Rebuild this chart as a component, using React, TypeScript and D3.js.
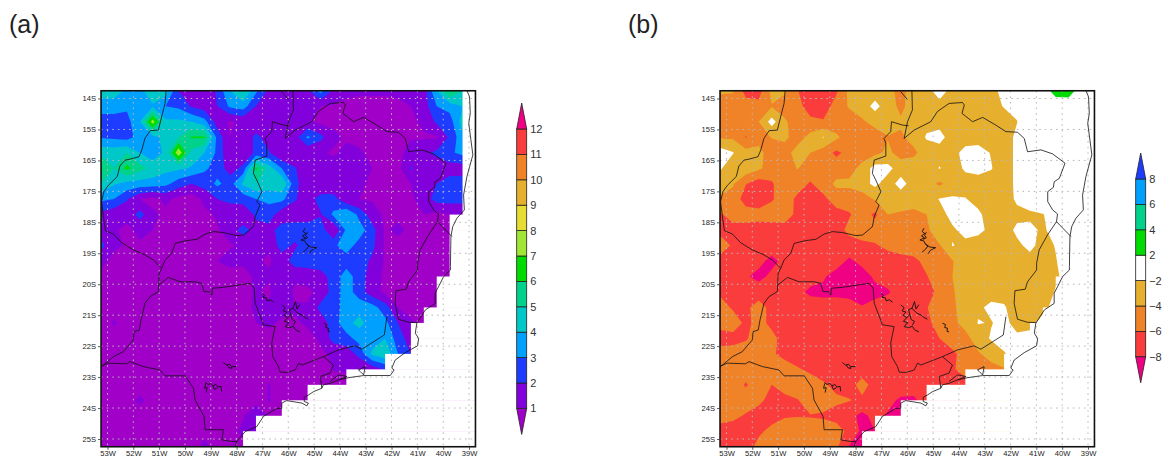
import React, { useRef, useEffect } from 'react'
import * as d3 from 'd3'

// grid: 0.5 degree, rows from 13.75S down to 25.25S, columns from 53.25W to 38.75W
const gridLons = d3.range(30).map(i => -53.25 + i * 0.5)
const gridLats = d3.range(24).map(i => -13.75 - i * 0.5)

const rainA = [
  [4.8,4.5,3.8,3.6,5.0,4.5,2.0,1.0,1.0,2.2,4.0,5.2,3.2,1.8,1.5,1.2,1.8,3.4,1.8,1.2,1.1,1.1,1.1,1.2,1.1,1.5,4.0,6.2,5.0,5.0],
  [3.2,3.5,3.2,3.5,3.8,3.0,2.8,1.9,1.5,2.0,3.2,3.5,2.0,1.8,1.5,1.2,1.0,1.0,0.9,0.8,0.8,0.8,0.8,0.8,1.0,1.5,3.0,3.4,4.0,4.0],
  [2.8,2.5,2.6,4.0,7.5,4.2,4.2,4.0,3.4,1.5,0.9,1.2,1.2,1.3,1.5,1.3,1.1,0.8,0.8,0.7,0.7,0.7,0.7,0.7,0.8,1.2,2.2,2.5,4.5,4.5],
  [2.9,2.8,2.6,3.4,3.6,4.4,5.0,6.1,6.1,2.7,1.0,1.1,2.3,1.5,1.2,1.5,3.2,2.3,1.2,0.9,0.8,0.7,0.7,0.7,0.9,0.9,0.9,2.2,3.7,3.7],
  [4.7,4.6,5.0,4.0,3.2,4.3,7.8,4.7,4.0,2.8,1.0,1.0,2.3,2.1,1.0,1.0,1.1,1.1,0.9,1.2,1.1,0.8,0.7,0.7,1.4,1.8,2.2,2.8,3.3,3.3],
  [6.2,5.0,6.3,5.3,4.8,4.3,4.2,3.9,3.2,2.6,1.5,2.3,6.2,4.5,3.0,2.1,1.2,1.3,1.3,1.4,1.3,1.0,0.7,0.7,2.1,1.3,1.5,1.5,1.5,1.5],
  [5.0,4.1,3.7,3.6,3.5,3.3,2.5,2.0,2.4,3.2,2.6,4.2,5.0,4.6,5.0,2.4,1.2,1.1,1.2,1.3,1.1,0.9,0.7,0.8,1.0,1.0,2.0,2.5,2.5,2.5],
  [3.2,3.0,2.1,1.0,0.7,1.2,0.7,0.5,1.2,2.0,2.4,2.4,3.0,3.2,3.3,2.1,1.5,2.4,2.4,1.2,1.0,0.9,0.8,0.9,0.8,1.5,2.4,2.4,2.4,2.4],
  [1.7,1.3,1.3,2.4,1.2,0.8,0.6,0.6,0.8,1.1,1.0,1.2,2.2,2.6,1.3,1.4,1.4,1.9,3.2,4.1,2.7,1.5,0.8,0.8,0.9,1.0,0.7,1.0,1.0,1.0],
  [1.5,1.1,0.8,1.2,1.0,0.7,0.6,0.6,0.7,0.9,1.5,2.4,1.6,1.6,2.5,2.6,2.6,2.6,1.0,3.2,3.5,2.4,0.9,1.2,0.8,0.8,0.6,0.7,1.0,1.0],
  [2.3,1.2,0.9,0.9,0.7,0.6,0.5,0.6,0.7,0.7,0.9,1.2,1.1,1.1,2.5,1.8,2.6,2.6,2.8,3.5,2.6,2.3,0.8,0.7,0.9,0.7,0.6,0.8,1.0,1.0],
  [1.3,0.7,0.7,0.6,0.6,0.6,0.5,0.6,0.8,1.0,1.3,1.1,1.1,0.9,1.4,2.5,2.5,2.6,2.5,2.5,2.5,1.8,0.9,0.6,0.6,0.8,0.9,0.9,1.0,1.0],
  [0.7,0.6,0.6,0.6,0.6,0.6,0.5,0.5,0.5,0.6,0.6,0.8,1.1,1.1,1.1,1.2,1.4,1.6,2.4,3.5,2.5,1.5,0.8,0.6,0.6,0.6,1.0,1.0,1.0,1.0],
  [0.6,0.6,0.6,0.6,0.6,0.6,0.5,0.5,0.5,0.6,0.6,0.7,1.1,0.8,2.0,0.8,0.8,1.3,2.4,3.5,2.5,1.4,0.8,0.7,0.7,0.7,0.8,1.0,1.0,1.0],
  [0.6,0.6,0.6,0.6,0.6,0.6,0.5,0.5,0.5,0.6,0.6,0.8,1.1,1.2,1.2,1.1,1.1,2.3,2.6,3.4,3.6,3.4,2.5,1.0,0.8,0.8,0.8,0.8,0.8,0.8],
  [0.6,1.1,0.6,0.6,0.6,0.6,0.5,0.5,0.5,0.6,0.6,0.8,1.0,1.1,0.9,0.9,1.1,1.4,2.5,3.7,4.3,3.5,3.3,2.0,1.1,0.8,0.8,0.8,0.8,0.8],
  [0.6,0.6,0.6,0.6,0.6,0.6,0.5,0.5,0.5,0.6,0.6,0.7,0.8,0.8,0.7,0.7,0.8,1.1,2.4,2.6,3.4,3.5,4.0,2.5,1.5,0.8,0.8,0.8,0.8,0.8],
  [0.6,0.6,0.6,0.6,0.6,0.6,0.5,0.5,0.5,0.6,0.6,0.6,0.6,0.6,0.5,0.5,0.6,0.9,1.1,1.4,2.3,4.2,4.8,3.0,2.0,0.8,0.8,0.8,0.8,0.8],
  [0.6,0.6,0.6,0.6,0.6,0.6,0.5,0.5,0.5,0.6,0.6,0.6,0.6,0.6,0.5,0.5,0.5,0.5,1.05,1.1,1.2,1.4,2.1,1.5,1.0,0.8,0.8,0.8,0.8,0.8],
  [0.6,0.6,0.6,0.6,0.6,0.6,0.5,0.5,0.5,0.6,0.6,0.6,0.6,1.05,0.6,0.6,0.6,0.6,0.6,0.6,0.6,0.6,0.6,0.6,0.6,0.6,0.6,0.6,0.6,0.6],
  [0.6,0.6,0.6,1.2,0.6,0.6,0.5,0.5,0.5,0.6,0.6,0.6,0.6,1.05,0.6,0.6,0.6,0.6,0.6,0.6,0.6,0.6,0.6,0.6,0.6,0.6,0.6,0.6,0.6,0.6],
  [0.6,0.6,0.6,0.6,0.6,0.6,0.5,0.5,0.5,0.6,0.6,0.9,2.1,0.8,0.6,0.6,0.6,0.6,0.6,0.6,0.6,0.6,0.6,0.6,0.6,0.6,0.6,0.6,0.6,0.6],
  [0.6,0.6,0.6,0.6,0.6,0.6,0.5,0.5,0.7,0.6,0.7,1.2,1.0,0.6,0.6,0.6,0.6,0.6,0.6,0.6,0.6,0.6,0.6,0.6,0.6,0.6,0.6,0.6,0.6,0.6],
  [0.6,0.6,0.6,0.6,0.6,0.6,0.5,0.5,1.3,0.6,0.6,0.8,0.8,0.6,0.6,0.6,0.6,0.6,0.6,0.6,0.6,0.6,0.6,0.6,0.6,0.6,0.6,0.6,0.6,0.6],
]

const rainB = [
  [-3.7,-3.8,-6.8,-6.8,-3.4,-3.7,-5.9,-7.2,-7.2,-6.3,-3.5,-3.0,-3.0,-3.4,-4.6,-3.0,-2.6,-1.2,-2.6,-2.6,-2.6,-2.5,-1.5,-1,-0.5,1.0,2.8,2.9,1,1],
  [-5,-5,-5,-5.4,-4.1,-4.9,-5.3,-7,-7,-5.2,-3.8,-3,-1.4,-3,-4.5,-3,-2.7,-2.6,-2.6,-2.6,-2.6,-2.6,-1.9,-1.5,-0.5,-0.5,0.8,0.8,0.5,0.5],
  [-5,-5,-5,-4,-1.2,-3.7,-5,-5.5,-5.8,-5.2,-5,-4.3,-3.3,-3,-3.7,-3,-2.6,-2.5,-2.6,-2.6,-2.6,-2.7,-2.8,-2.05,-0.5,-0.5,0,0,0,0],
  [-4.2,-4.3,-6.1,-4.8,-3.9,-3.5,-5,-3.3,-1.9,-3.6,-5,-5,-5,-4.1,-4.3,-3.3,-1.8,-1.5,-2.7,-2.7,-2.7,-2.8,-2.9,-1.6,-0.5,0,0,0,0,0],
  [-1,-1.9,-3.3,-3.4,-5,-5,-3,-4,-5,-6.4,-5.4,-5,-4.5,-3.6,-4.7,-4.4,-3,-2.7,-2.5,-1.5,-1.3,-2.1,-2.9,-1.6,0,0,0,0,0,0],
  [-1.8,-3,-2.7,-3.6,-5,-5,-3.9,-4.9,-5,-5,-4.8,-3.4,-1.2,-1.4,-3,-3,-3,-1.9,-2.9,-1.7,-1.4,-1.9,-2.9,-1.6,0,0,0,0,0,0],
  [-3,-3.8,-5.9,-7,-6.2,-5,-5.2,-6.2,-5,-3.6,-3.6,-2.8,-1.5,-3,-1.2,-3,-3.3,-4.3,-3.3,-2.8,-2.8,-2.7,-2.9,-1.6,0,0,0,0,0,0],
  [-4.3,-4.7,-7,-7.2,-6.2,-5,-6.4,-7.5,-6.5,-5,-5,-5,-3.8,-3,-3.2,-2.9,-2.8,-1.9,-1.7,-1.9,-2.7,-2.7,-2.9,-1.7,-0.5,0,0,0,0,0],
  [-6.3,-4.9,-4.9,-5.2,-5,-4.8,-6.6,-7.5,-7,-6.8,-6.2,-5,-6.4,-4,-4.2,-4.6,-4,-2.7,-1.4,-1.2,-1.6,-3,-2.8,-2.5,-2.5,-2.1,-1,0,0,0],
  [-6.6,-7,-7,-7,-7,-7,-7,-7.2,-7,-7,-5.4,-5,-5,-5,-4.8,-4.6,-4.6,-2,-2.3,-1.4,-1.5,-2.5,-2.9,-1.6,-1.4,-2.4,-1,0,0,0],
  [-4.9,-6.3,-7,-7,-7,-7,-7,-7,-7,-7,-7,-6.5,-6.2,-5.5,-5,-5,-5,-4.2,-1.9,-2.5,-3,-3,-3,-2.4,-1.5,-2.7,-1.9,-1,0,0],
  [-6.8,-7,-7.2,-7.5,-8.5,-7.5,-7.2,-7.2,-7.2,-7.2,-8.3,-7.5,-7,-7,-6.8,-6.4,-5.5,-4.6,-4.1,-3,-2.7,-2.7,-2.7,-2.7,-2.7,-2.6,-2.1,-1,0,0],
  [-7,-7,-7.8,-8.5,-7.6,-7.2,-7.2,-7.4,-7.8,-8.7,-9,-8.8,-7.7,-7.2,-7,-7,-6.1,-5,-4,-3,-2.7,-2.7,-2.7,-2.7,-2.7,-2.6,-2.2,-1.5,0,0],
  [-6.4,-7,-7,-7,-7.2,-7.4,-7.6,-8.3,-8.4,-8.3,-8.4,-8.7,-8.5,-8.2,-7.2,-7,-6.6,-5.6,-4.2,-3,-2.7,-2.7,-2.7,-2.7,-2.7,-2.7,-1.9,-1,0,0],
  [-5,-6.3,-6.4,-5.2,-6.6,-7,-7.1,-7.2,-7.3,-7.4,-7.5,-7.9,-7.4,-7.1,-7,-7,-6.1,-4.9,-4.4,-3,-2.3,-1.6,-1.8,-3,-3,-2.8,-1,0,0,0],
  [-5.2,-4.8,-6.5,-5.3,-6.5,-7,-7,-7,-7,-7,-7,-7,-7,-7,-7,-6.8,-6.3,-5.5,-4.5,-3.3,-1.9,-2.1,-1.4,-2.8,-2.9,-1,0,0,0,0],
  [-7,-6.8,-6.2,-5,-5.4,-6.8,-7,-7,-7,-7,-7,-7,-7,-7,-7,-7,-7,-6,-5,-4.7,-3,-1.8,-1,-1.5,-1,0,0,0,0,0],
  [-5,-5,-5,-5,-5.7,-6.6,-7,-7,-7,-7,-7,-7,-7,-7,-7,-7,-7,-7,-6.4,-5.2,-4.2,-3.3,-2.2,-1,0,0,0,0,0,0],
  [-5,-5,-5,-5,-5,-5,-5.8,-6.4,-7,-7,-7,-7,-7,-7,-7,-7,-7,-7,-6.3,-5,-5,-4.6,-4.2,-1,0,0,0,0,0,0],
  [-5,-5,-6.2,-5,-6,-5,-5,-5,-5.7,-6.6,-6.8,-5.2,-6.8,-7,-7,-7,-7,-7,-7,-7,-5,-4,-3,-1,0,0,0,0,0,0],
  [-5,-5,-5,-5.6,-6.6,-6.7,-6.1,-5,-5,-5.6,-5.9,-6.4,-6.7,-7.5,-8.3,-8.4,-7,-7,-7,-7,-5,-4,-3,-1,0,0,0,0,0,0],
  [-5,-5.5,-6.2,-6.8,-6.8,-6.2,-6.1,-6.1,-6.3,-6.8,-7.4,-8.5,-7.4,-8.2,-8.2,-8,-7,-7,-7,-7,-5,-4,-3,-1,0,0,0,0,0,0],
  [-7,-7,-6.8,-6.4,-5.4,-4.8,-4.8,-5.2,-4.9,-5,-6.6,-8.4,-8,-7,-7,-7,-7,-7,-7,-7,-5,-4,-3,-1,0,0,0,0,0,0],
  [-7,-7,-7,-5.3,-4.9,-4.9,-4.9,-5,-5,-5.6,-8.1,-8.5,-8,-7,-7,-7,-7,-7,-7,-7,-5,-4,-3,-1,0,0,0,0,0,0],
]

// last land column for each band between two grid rows (ocean points are undefined in the model)
const lastLandCol = [28,28,28,28,28,28,28,28,27,27,27,27,26,26,25,24,24,22,19,16,14,12,11]

const levelsA = [1,2,3,4,5,6,7,8,9,10,11,12]
const colorsA = ['#a000c8','#8200dc','#1e3cff','#00a0ff','#00c8c8','#00d28c','#00dc00','#a0e632','#e6dc32','#e6af2d','#f08228','#fa3c3c','#f00082']
const levelsB = [-8,-6,-4,-2,2,4,6,8]
const colorsB = ['#f00082','#fa3c3c','#f08228','#e6af2d','#ffffff','#00dc00','#00d28c','#00a0ff','#1e3cff']

const lonTicks = d3.range(-53, -38)
const latTicks = d3.range(-14, -26, -1)

const boundaries = [
  [[-50.73,-13.73],[-50.77,-14.16],[-50.87,-14.48],[-51.03,-15.02],[-51.35,-15.04],[-51.55,-15.29],[-51.67,-15.66],[-51.78,-15.88],[-52.13,-15.96],[-52.32,-15.99],[-52.52,-16.18],[-52.62,-16.52],[-52.97,-16.81],[-53.14,-17.01],[-53.23,-17.33],[-53.14,-17.92],[-53.08,-18.27],[-52.77,-18.38],[-52.45,-18.66],[-52.0,-18.89],[-51.55,-19.05],[-51.22,-19.22],[-50.9,-19.48],[-51.0,-19.65],[-51.03,-20.24],[-51.35,-20.4],[-51.55,-20.62],[-51.7,-21.15],[-51.77,-21.48],[-51.97,-21.53],[-52.0,-21.8],[-52.39,-22.18],[-52.77,-22.34],[-53.23,-22.66],[-53.42,-22.82]],
  [[-50.9,-19.48],[-50.77,-19.22],[-50.51,-19.0],[-50.38,-18.68],[-49.93,-18.59],[-49.54,-18.55],[-49.22,-18.38],[-48.9,-18.3],[-48.51,-18.33],[-47.99,-18.43],[-47.73,-18.41],[-47.35,-18.14],[-47.28,-17.82],[-47.09,-17.44],[-47.22,-17.33],[-47.02,-17.01],[-47.22,-16.63],[-47.35,-16.42],[-47.28,-15.99],[-46.83,-15.86],[-46.83,-15.45],[-46.9,-15.29],[-46.64,-15.07],[-46.61,-14.75],[-46.18,-14.86],[-45.95,-14.88]],
  [[-46.25,-13.78],[-46.0,-14.03]],
  [[-45.82,-13.75],[-45.8,-14.37],[-45.99,-14.75],[-46.12,-15.29],[-45.73,-15.02],[-45.09,-14.75],[-44.83,-14.42],[-44.38,-14.16],[-43.86,-14.13],[-43.79,-14.21],[-43.88,-14.48],[-43.47,-14.75],[-43.08,-14.61],[-42.57,-14.86],[-42.18,-15.07],[-41.73,-15.09],[-41.47,-15.29],[-41.34,-15.72],[-40.82,-15.66],[-40.37,-15.79],[-39.89,-16.09],[-40.11,-16.58],[-40.31,-16.69],[-40.34,-16.87],[-40.56,-17.01],[-40.56,-17.33],[-40.37,-17.6],[-40.18,-17.73],[-40.22,-17.98],[-39.66,-18.46]],
  [[-40.22,-17.98],[-40.57,-18.41],[-40.89,-18.89],[-40.99,-19.32],[-40.99,-19.54],[-41.34,-19.92],[-41.43,-20.16],[-41.83,-20.21],[-41.86,-20.62],[-41.73,-21.13],[-41.34,-21.23],[-41.02,-21.24]],
  [[-42.18,-21.05],[-42.28,-21.64],[-43.15,-22.1],[-43.41,-21.99],[-44.05,-22.12],[-44.64,-22.34],[-45.47,-22.61],[-45.6,-22.55],[-45.73,-22.77],[-46.06,-22.85],[-46.31,-22.84],[-46.38,-22.66],[-46.6,-22.34],[-46.64,-21.9],[-46.51,-21.37],[-46.96,-21.31],[-47.28,-20.61],[-47.32,-20.13],[-47.48,-19.97],[-48.51,-20.1],[-48.94,-20.13],[-48.96,-20.35],[-49.05,-20.24],[-49.26,-20.24],[-49.35,-19.97],[-49.61,-19.92],[-50.19,-19.92],[-50.64,-19.78],[-51.0,-20.02]],
  [[-44.64,-22.34],[-44.25,-22.61],[-44.38,-22.87],[-44.76,-22.98],[-44.7,-23.36]],
  [[-53.23,-22.64],[-52.97,-22.55],[-52.26,-22.57],[-52.13,-22.5],[-51.61,-22.66],[-50.97,-22.77],[-50.77,-22.96],[-49.99,-22.96],[-49.67,-23.36],[-49.61,-23.74],[-49.26,-24.27],[-49.22,-24.7],[-48.51,-24.7],[-48.57,-25.03],[-48.19,-25.08],[-47.99,-25.08]],
  [[-39.08,-13.75],[-38.98,-13.94],[-38.95,-14.48],[-39.01,-14.8],[-38.85,-15.82],[-39.08,-16.52],[-39.21,-17.12],[-39.18,-17.6],[-39.47,-17.87],[-39.63,-18.14],[-39.7,-18.46],[-39.72,-19.43],[-39.72,-19.54],[-39.98,-19.75],[-40.18,-20.08],[-40.31,-20.29],[-40.31,-20.62],[-40.69,-20.83],[-41.02,-21.26],[-41.08,-21.58],[-40.95,-21.75],[-40.99,-21.99],[-41.47,-22.21],[-41.86,-22.45],[-41.99,-22.71],[-41.9,-22.77],[-42.05,-22.95],[-43.08,-22.95],[-43.67,-23.02],[-44.05,-23.09],[-44.38,-23.2],[-44.64,-23.25],[-44.7,-23.36],[-45.02,-23.47],[-45.22,-23.58],[-45.38,-23.65],[-45.38,-23.79],[-45.22,-23.84],[-45.28,-23.93],[-45.47,-23.84],[-46.06,-23.76],[-46.25,-23.84],[-46.25,-24.01],[-46.44,-24.01],[-46.96,-24.27],[-47.22,-24.6],[-47.67,-24.76],[-47.99,-25.08],[-48.06,-25.27]],
  [[-43.28,-22.77],[-43.02,-22.66],[-43.08,-22.93],[-43.21,-22.82],[-43.28,-22.77]],
  [[-44.38,-23.14],[-44.05,-22.93],[-43.73,-22.98],[-44.05,-23.09]],
]

// reservoirs, each one a bundle of short jagged strokes
const lakes = [
  [[-45.35,-18.19],[-45.42,-18.3],[-45.32,-18.36],[-45.45,-18.44],[-45.33,-18.5],[-45.51,-18.57],[-45.36,-18.6],[-45.3,-18.7],[-45.2,-18.76],[-45.28,-18.86],[-45.43,-18.97]],
  [[-45.3,-18.7],[-45.12,-18.8],[-44.9,-18.82],[-45.1,-18.9],[-45.2,-19.02]],
  [[-45.38,-18.55],[-45.26,-18.5],[-45.33,-18.42],[-45.26,-18.32]],
  [[-46.25,-20.67],[-46.12,-20.76],[-46.2,-20.86],[-46.05,-20.9],[-46.16,-21.0],[-46.02,-21.08],[-46.15,-21.2],[-45.98,-21.24],[-46.12,-21.37],[-45.95,-21.4],[-45.8,-21.36],[-45.72,-21.47],[-45.55,-21.54]],
  [[-46.02,-21.08],[-45.9,-20.98],[-45.95,-20.82],[-45.82,-20.78],[-45.72,-20.56],[-45.66,-20.8],[-45.55,-20.66]],
  [[-45.82,-20.78],[-45.62,-20.94],[-45.45,-21.0],[-45.38,-21.06],[-45.22,-21.13]],
  [[-45.9,-20.98],[-45.85,-21.14],[-45.72,-21.2],[-45.8,-21.32]],
  [[-44.64,-21.26],[-44.52,-21.3],[-44.55,-21.4],[-44.44,-21.42],[-44.46,-21.52],[-44.38,-21.54]],
  [[-47.02,-20.29],[-46.92,-20.36],[-46.98,-20.42],[-46.84,-20.44],[-46.82,-20.54],[-46.7,-20.5],[-46.57,-20.58]],
  [[-48.51,-22.53],[-48.38,-22.62],[-48.28,-22.58],[-48.2,-22.66],[-48.0,-22.66]],
  [[-48.36,-22.6],[-48.3,-22.7],[-48.18,-22.72],[-48.2,-22.66]],
  [[-49.22,-23.18],[-49.1,-23.24],[-49.0,-23.2],[-48.92,-23.28],[-48.8,-23.24],[-48.72,-23.32],[-48.6,-23.3],[-48.58,-23.46]],
  [[-49.2,-23.22],[-49.24,-23.36],[-49.14,-23.34],[-49.18,-23.5]],
  [[-48.92,-23.28],[-48.86,-23.4],[-48.74,-23.34]],
]

const FONT = '"Liberation Sans", Arial, sans-serif'

function drawMap(svg, { id, dx, grid, levels, colors }){
  const x = d3.scaleLinear().domain([-53, -39]).range([107.5 + dx, 469 + dx])
  const y = d3.scaleLinear().domain([-14, -25]).range([98.5, 439])
  const lonLeft = gridLons[0], lonRight = gridLons[29]
  const latTop = gridLats[0], latBottom = gridLats[23]

  const g = svg.append('g')

  const frameClip = g.append('clipPath').attr('id', 'frame-' + id)
  frameClip.append('rect').attr('x', x(lonLeft)).attr('y', y(latTop))
    .attr('width', x(lonRight) - x(lonLeft)).attr('height', y(latBottom) - y(latTop))

  // d3.contours puts grid point i at coordinate i + 0.5
  const project = d3.geoTransform({
    point(u, v){
      this.stream.point(x(lonLeft + (u - 0.5) * 0.5), y(latTop - (v - 0.5) * 0.5))
    }
  })
  const path = d3.geoPath(project)
  const contours = d3.contours().size([30, 24]).smooth(true).thresholds(levels)(grid.flat())

  const fills = g.append('g').attr('clip-path', `url(#frame-${id})`)
  fills.append('rect').attr('x', x(lonLeft)).attr('y', y(latTop))
    .attr('width', x(lonRight) - x(lonLeft)).attr('height', y(latBottom) - y(latTop))
    .attr('fill', colors[0])
  fills.selectAll('path').data(contours).join('path')
    .attr('d', path)
    .attr('fill', (d, i) => colors[i + 1])

  // ocean is undefined in the model: painted over in white, one step per band
  lastLandCol.forEach((c, i) => {
    fills.append('rect')
      .attr('x', x(gridLons[c])).attr('y', y(gridLats[i]))
      .attr('width', x(lonRight) - x(gridLons[c]) + 2)
      .attr('height', y(gridLats[i + 1]) - y(gridLats[i]) + 0.5)
      .attr('fill', '#fff')
  })

  // dotted graticule
  const grat = g.append('g').attr('stroke', '#b8b8b8').attr('stroke-width', 1).attr('stroke-dasharray', '1.6 4')
  lonTicks.forEach(lon => grat.append('line').attr('x1', x(lon)).attr('x2', x(lon)).attr('y1', y(latTop)).attr('y2', y(latBottom)))
  latTicks.forEach(lat => grat.append('line').attr('y1', y(lat)).attr('y2', y(lat)).attr('x1', x(lonLeft)).attr('x2', x(lonRight)))

  const line = d3.line().x(d => x(d[0])).y(d => y(d[1]))
  const map = g.append('g').attr('clip-path', `url(#frame-${id})`).attr('fill', 'none').attr('stroke', '#111')
  map.selectAll('path.b').data(boundaries).join('path').attr('class', 'b').attr('d', line).attr('stroke-width', 0.8)
  map.selectAll('path.l').data(lakes).join('path').attr('class', 'l').attr('d', line).attr('stroke-width', 0.9)

  // frame and axes
  g.append('rect').attr('x', x(lonLeft)).attr('y', y(latTop))
    .attr('width', x(lonRight) - x(lonLeft)).attr('height', y(latBottom) - y(latTop))
    .attr('fill', 'none').attr('stroke', '#111').attr('stroke-width', 1.6)

  const xAxis = d3.axisBottom(x).tickValues(lonTicks).tickSize(3).tickPadding(1).tickFormat(d => `${-d}W`)
  const yAxis = d3.axisLeft(y).tickValues(latTicks).tickSize(3).tickPadding(2).tickFormat(d => `${-d}S`)
  const ax = g.append('g').attr('transform', `translate(0,${y(latBottom)})`).call(xAxis)
  const ay = g.append('g').attr('transform', `translate(${x(lonLeft)},0)`).call(yAxis)
  ;[ax, ay].forEach(a => {
    a.select('.domain').remove()
    a.selectAll('text').attr('font-family', FONT).attr('font-size', 7.6).attr('fill', '#222')
    a.selectAll('line').attr('stroke', '#333').attr('stroke-width', 0.8)
  })
}

function drawBar(svg, { left, top, levels, colors }){
  const boxW = 10, boxH = 25.4, tip = 26
  const n = levels.length - 1
  const y = d3.scaleLinear().domain([n, 0]).range([top, top + n * boxH])
  const g = svg.append('g').attr('stroke', '#222').attr('stroke-width', 0.8)
  d3.range(n).forEach(i => {
    g.append('rect').attr('x', left).attr('y', y(i + 1)).attr('width', boxW).attr('height', boxH)
      .attr('fill', colors[i + 1])
  })
  g.append('path').attr('d', d3.line()([[left, y(n)], [left + boxW / 2, y(n) - tip], [left + boxW, y(n)]]) + 'Z').attr('fill', colors[n + 1])
  g.append('path').attr('d', d3.line()([[left, y(0)], [left + boxW / 2, y(0) + tip], [left + boxW, y(0)]]) + 'Z').attr('fill', colors[0])
  svg.append('g').selectAll('text').data(levels).join('text')
    .attr('x', left + boxW + 3.5).attr('y', (d, i) => y(i) + 4)
    .attr('font-family', FONT).attr('font-size', 11).attr('fill', '#333')
    .text(d => d < 0 ? `\u2212${-d}` : d)
}

export default function App(){
  const ref = useRef(null)

  useEffect(() => {
    const svg = d3.select(ref.current)
    svg.selectAll('*').remove()
    svg.append('rect').attr('width', 1169).attr('height', 458).attr('fill', '#fff')

    drawMap(svg, { id: 'a', dx: 0, grid: rainA, levels: levelsA, colors: colorsA })
    drawMap(svg, { id: 'b', dx: 619, grid: rainB, levels: levelsB, colors: colorsB })
    drawBar(svg, { left: 516.7, top: 129, levels: levelsA, colors: colorsA })
    drawBar(svg, { left: 1135.7, top: 179, levels: levelsB, colors: colorsB })

    svg.append('text').attr('x', 9).attr('y', 33).attr('font-family', FONT).attr('font-size', 25).attr('fill', '#222').text('(a)')
    svg.append('text').attr('x', 628).attr('y', 33).attr('font-family', FONT).attr('font-size', 25).attr('fill', '#222').text('(b)')
  }, [])

  return (
    <svg ref={ref} width={1169} height={458} style={{position: 'absolute', left: 0, top: 0, display: 'block'}} />
  )
}
